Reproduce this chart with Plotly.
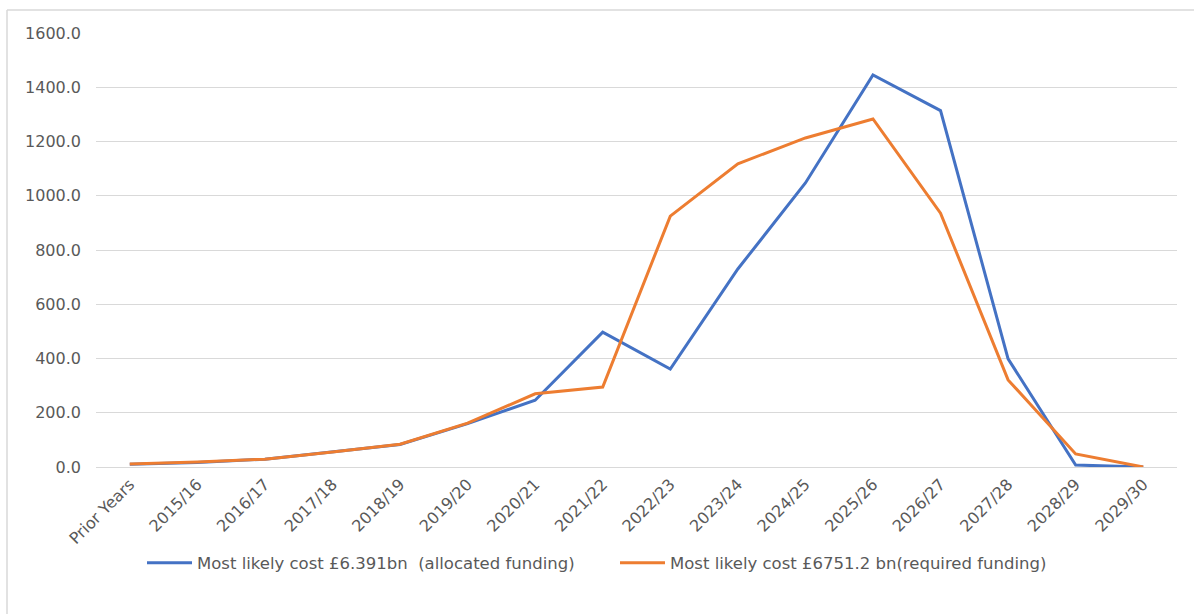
import plotly.graph_objects as go

categories = ["Prior Years", "2015/16", "2016/17", "2017/18", "2018/19", "2019/20",
              "2020/21", "2021/22", "2022/23", "2023/24", "2024/25", "2025/26",
              "2026/27", "2027/28", "2028/29", "2029/30"]
allocated = [10, 17, 29, 55, 83, 160, 246, 497, 361, 730, 1047, 1445, 1314, 399, 7, 0]
required = [11, 18, 29, 55, 84, 162, 270, 295, 925, 1118, 1213, 1283, 936, 321, 48, 0]
y_ticks = [0, 200, 400, 600, 800, 1000, 1200, 1400, 1600]

name_a = "Most likely cost £6.391bn  (allocated funding)"
name_r = "Most likely cost £6751.2 bn(required funding)"

font = "DejaVu Sans, Arial, sans-serif"
grey = "#595959"

fig = go.Figure()
fig.add_trace(go.Scatter(x=categories, y=allocated, mode="lines", name=name_a,
                         line=dict(color="#4472C4", width=3), legend="legend"))
fig.add_trace(go.Scatter(x=categories, y=required, mode="lines", name=name_r,
                         line=dict(color="#ED7D31", width=3), legend="legend2"))

W, H = 1194, 614
L, R, T, B = 96, W - 1177, 33, H - 467
pw, ph = W - L - R, H - T - B

leg_common = dict(orientation="h", xanchor="left", y=(467 - 563) / ph,
                  yanchor="middle", font=dict(size=16.5, color=grey, family=font),
                  itemwidth=45, bgcolor="rgba(0,0,0,0)")

fig.update_layout(
    width=W, height=H,
    margin=dict(l=L, r=R, t=T, b=B),
    paper_bgcolor="white", plot_bgcolor="white",
    font=dict(family=font, color=grey, size=16),
    showlegend=True,
    legend=dict(x=(150 - 8 - L) / pw, **leg_common),
    legend2=dict(x=(623 - 8 - L) / pw, **leg_common),
    xaxis=dict(type="category", tickangle=-45, showgrid=False, showline=False,
               ticks="", tickfont=dict(size=16, color=grey), range=[-0.5, 15.5],
               ticklabelstandoff=4),
    yaxis=dict(range=[0, 1600], tickvals=y_ticks,
               ticktext=[f"{v:.1f}" for v in y_ticks],
               showgrid=True, gridcolor="#d9d9d9", gridwidth=1,
               zeroline=True, zerolinecolor="#d9d9d9", zerolinewidth=1,
               ticks="", tickfont=dict(size=16, color=grey), ticklabelstandoff=14),
    shapes=[
        dict(type="line", xref="paper", yref="paper",
             x0=(7 - L) / pw, x1=(W + 5 - L) / pw, y0=(467 - 10) / ph,
             y1=(467 - 10) / ph, line=dict(color="#d9d9d9", width=1.5)),
        dict(type="line", xref="paper", yref="paper",
             x0=(7 - L) / pw, x1=(7 - L) / pw, y0=(467 - 10) / ph,
             y1=(467 - H - 5) / ph, line=dict(color="#d9d9d9", width=1.5)),
    ],
)

fig.write_html("out.html")
